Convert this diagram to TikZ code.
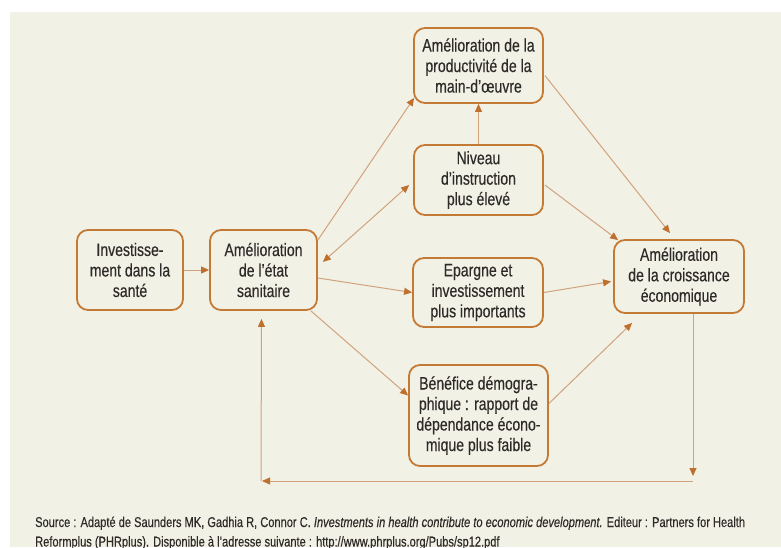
\documentclass[tikz,border=0pt]{standalone}
\usepackage{fontspec}
\setmainfont{Liberation Sans}[FakeStretch=0.78,FakeBold=0.3]
\usetikzlibrary{arrows.meta,calc}
\definecolor{bg}{HTML}{F1F1E6}
\definecolor{boxc}{HTML}{C47A35}
\definecolor{linec}{HTML}{D2A27C}
\definecolor{tipc}{HTML}{C0702E}
\definecolor{txt}{HTML}{2E2A28}
\tikzset{
  box/.style={draw=boxc, line width=1.8pt, rounded corners=11pt, fill=bg, align=center,
    text=txt, font=\fontsize{18}{20.5}\selectfont, inner sep=0pt},
  arr/.style={draw=linec, line width=1pt, -{Triangle[length=8pt,width=7pt,color=tipc]}},
  darr/.style={draw=linec, line width=1pt, {Triangle[length=8pt,width=7pt,color=tipc]}-{Triangle[length=8pt,width=7pt,color=tipc]}},
  srctext/.style={anchor=base west, text=txt, font=\fontsize{14.2}{20}\selectfont, inner sep=0pt}
}
\begin{document}
\begin{tikzpicture}[x=1pt,y=-1pt]
\useasboundingbox (0,0) rectangle (781,547);
\clip (0,0) rectangle (781,547);
\fill[white] (0,0) rectangle (781,547);
\fill[bg] (10,12) rectangle (781,547);

\node[box, minimum width=106pt, minimum height=80pt] (inv) at (130,270) {Investisse-\\ment dans la\\santé};
\node[box, minimum width=107pt, minimum height=80pt] (ame) at (263.5,270) {Amélioration\\de l’état\\sanitaire};
\node[box, minimum width=129pt, minimum height=75pt] (prod) at (478.5,65.5) {Amélioration de la\\productivité de la\\main-d’œuvre};
\node[box, minimum width=129pt, minimum height=70pt] (niv) at (478.5,180) {Niveau\\d’instruction\\plus élevé};
\node[box, minimum width=130pt, minimum height=69pt] (epa) at (478,292.5) {Epargne et\\investissement\\plus importants};
\node[box, minimum width=139pt, minimum height=101pt] (ben) at (478.5,415.5) {Bénéfice démogra-\\phique : rapport de\\dépendance écono-\\mique plus faible};
\node[box, minimum width=130pt, minimum height=73pt] (cro) at (679,276.5) {Amélioration\\de la croissance\\économique};

\coordinate (c1) at (693,476);
\coordinate (c2) at (693,481);
\coordinate (c3) at (262,481);
\coordinate (c4) at (261,481);

\draw[arr] (inv.east) -- (ame.west);
\draw[arr] ($(ame.east)+(0,-30)$) -- ($(prod.south west)+(1,-6)$);
\draw[darr] ($(ame.east)+(5,-8)$) -- ($(niv.west)+(-4,5)$);
\draw[arr] ($(ame.east)+(0,8)$) -- (epa.west);
\draw[arr] ($(ame.south east)+(-7,0)$) -- ($(ben.west)+(0,-20)$);
\draw[arr] (niv.north) -- (prod.south);
\draw[arr] ($(prod.east)+(1,10)$) -- ($(cro.north)+(-9,-6)$);
\draw[arr] ($(niv.east)+(1,5)$) -- ($(cro.north west)+(5,1)$);
\draw[arr] (epa.east) -- ($(cro.west)+(-2,5)$);
\draw[arr] ($(ben.east)+(0,-12)$) -- ($(cro.south west)+(19,9)$);
\draw[arr] ($(cro.south)+(14,0)$) -- (c1);
\draw[arr] (c2) -- (c3);
\draw[arr] (c4) -- ($(ame.south)+(-2,8)$);

\node[srctext] (src1) at (35,527)
  {Source : Adapté de Saunders MK, Gadhia R, Connor C. \textit{Investments in health contribute to economic development.} Editeur : Partners for Health};
\node[srctext] (src2) at (35,546.5)
  {Reformplus (PHRplus). Disponible à l’adresse suivante : http://www.phrplus.org/Pubs/sp12.pdf};
\end{tikzpicture}
\end{document}
